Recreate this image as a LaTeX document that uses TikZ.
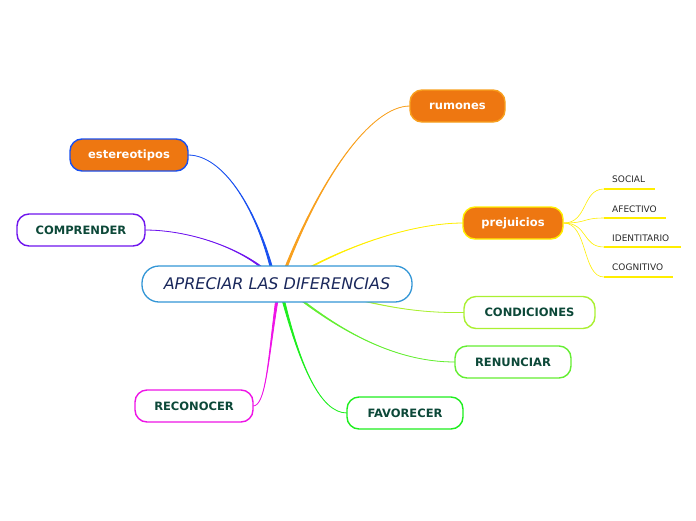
\documentclass[tikz,border=0pt]{standalone}
\usepackage{fontspec}
\setmainfont{DejaVu Sans}
\definecolor{orfill}{RGB}{238,119,17}
\definecolor{txtgreen}{RGB}{12,72,56}
\definecolor{cblue}{RGB}{51,150,214}
\definecolor{navy}{RGB}{26,40,92}
\definecolor{cest}{RGB}{25,80,240}
\definecolor{crum}{RGB}{248,160,30}
\definecolor{cpre}{RGB}{255,238,0}
\definecolor{ccomp}{RGB}{110,20,238}
\definecolor{ccond}{RGB}{170,240,50}
\definecolor{cren}{RGB}{100,238,50}
\definecolor{cfav}{RGB}{30,238,30}
\definecolor{crec}{RGB}{238,20,230}
\definecolor{leaftxt}{RGB}{40,40,40}
\tikzset{
  pill/.style={draw, line width=1.4pt, rounded corners=12pt, minimum height=32pt, inner sep=0pt, font=\fontsize{11.5}{13}\selectfont\bfseries},
  orangebox/.style={pill, fill=orfill, text=white},
  whitebox/.style={pill, fill=white, text=txtgreen},
  conn/.style={line width=0.8pt},
  leaf/.style={font=\fontsize{9}{10}\selectfont, text=leaftxt, anchor=west, inner sep=0pt},
  uline/.style={cpre, line width=1.8pt},
  leafconn/.style={cpre, line width=0.6pt}
}
\newcommand\taperconn[5]{%
  \path[conn, draw=#1, fill=#1] ([xshift=-1.2pt]#2) .. controls #3 and #4 .. (#5)
     .. controls #4 and #3 .. ([xshift=1.2pt]#2) -- cycle;}
\begin{document}
\begin{tikzpicture}[x=1pt,y=-1pt]
\useasboundingbox (0,0) rectangle (696,520);
% connector end points
\coordinate (sest) at (272,270);
\coordinate (srum) at (285,270);
\coordinate (spre) at (305,270);
\coordinate (scomp) at (265,270);
\coordinate (scond) at (355,299);
\coordinate (sren) at (300,299);
\coordinate (sfav) at (283,299);
\coordinate (srec) at (277,299);
\coordinate (est-e) at (188,155);
\coordinate (rum-w) at (410,106);
\coordinate (pre-w) at (463,223);
\coordinate (comp-e) at (145,230);
\coordinate (cond-w) at (464,312.5);
\coordinate (ren-w) at (455,362);
\coordinate (fav-w) at (347,413);
\coordinate (rec-e) at (253,406);
\taperconn{cest}{sest}{(255,205)}{(222,155)}{est-e}
\taperconn{crum}{srum}{(320,180)}{(370,106)}{rum-w}
\taperconn{cpre}{spre}{(360,240)}{(420,223)}{pre-w}
\taperconn{ccomp}{scomp}{(235,245)}{(185,230)}{comp-e}
\taperconn{ccond}{scond}{(400,310)}{(430,313)}{cond-w}
\taperconn{cren}{sren}{(360,345)}{(410,362)}{ren-w}
\taperconn{cfav}{sfav}{(300,365)}{(320,413)}{fav-w}
\taperconn{crec}{srec}{(268,360)}{(266,406)}{rec-e}
% nodes
\node[draw=cblue, line width=1.3pt, rounded corners=17pt, minimum width=270pt, minimum height=36pt, inner sep=0pt, fill=white, text=navy, font=\fontsize{16}{18}\selectfont\itshape] (c) at (277,284) {APRECIAR LAS DIFERENCIAS};
\node[orangebox, draw=crum, minimum width=95pt] (rum) at (457.5,106) {rumones};
\node[orangebox, draw=cest, minimum width=118pt] (est) at (129,155) {estereotipos};
\node[orangebox, draw=cpre, minimum width=100pt] (pre) at (513,223) {prejuicios};
\node[whitebox, draw=ccomp, minimum width=128pt] (comp) at (81,230) {COMPRENDER};
\node[whitebox, draw=ccond, minimum width=131pt] (cond) at (529.5,312.5) {CONDICIONES};
\node[whitebox, draw=cren, minimum width=116pt] (ren) at (513,362) {RENUNCIAR};
\node[whitebox, draw=cfav, minimum width=116pt] (fav) at (405,413) {FAVORECER};
\node[whitebox, draw=crec, minimum width=118pt] (rec) at (194,406) {RECONOCER};
% leaves
\node[leaf] (l1) at (612,179) {SOCIAL};
\node[leaf] (l2) at (612,209) {AFECTIVO};
\node[leaf] (l3) at (612,238) {IDENTITARIO};
\node[leaf] (l4) at (612,267) {COGNITIVO};
\coordinate (u1) at (604,189); \coordinate (u1e) at (655,189);
\coordinate (u2) at (604,218); \coordinate (u2e) at (666,218);
\coordinate (u3) at (604,247); \coordinate (u3e) at (681,247);
\coordinate (u4) at (604,277); \coordinate (u4e) at (673,277);
\draw[uline] (u1) -- (u1e);
\draw[uline] (u2) -- (u2e);
\draw[uline] (u3) -- (u3e);
\draw[uline] (u4) -- (u4e);
\draw[leafconn] (pre.east) .. controls (588,223) and (582,189) .. (u1);
\draw[leafconn] (pre.east) .. controls (588,223) and (582,218) .. (u2);
\draw[leafconn] (pre.east) .. controls (588,223) and (582,247) .. (u3);
\draw[leafconn] (pre.east) .. controls (588,223) and (582,277) .. (u4);
\end{tikzpicture}
\end{document}
